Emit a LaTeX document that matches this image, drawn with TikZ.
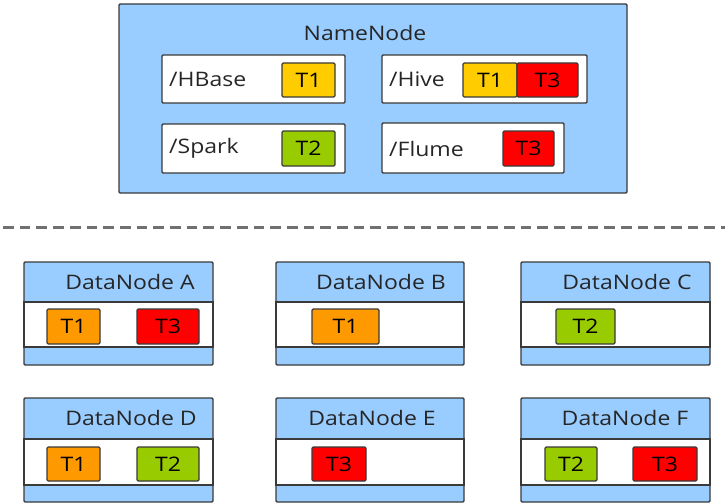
\documentclass[tikz,border=0pt]{standalone}
\usepackage{fontspec}
\setmainfont{Open Sans}[FakeStretch=1.15]
\definecolor{nblue}{HTML}{99CCFF}
\definecolor{tyellow}{HTML}{FFCC00}
\definecolor{torange}{HTML}{FF9900}
\definecolor{tgreen}{HTML}{99CC00}
\definecolor{tred}{HTML}{FF0000}
\definecolor{edge}{HTML}{3A3A3A}
\definecolor{dashgray}{HTML}{707070}
\tikzset{
  box/.style={draw=edge, line width=1.4pt, rounded corners=1.2pt, inner sep=0pt, outer sep=0pt},
  bluebox/.style={box, fill=nblue},
  whitebox/.style={box, fill=white},
  tag/.style={box, line width=1.2pt, minimum height=35pt, text=black},
  lbl/.style={inner sep=0pt, text=black!85},
  sepline/.style={draw=dashgray, line width=3pt, dash pattern=on 10.7pt off 6pt},
}
\newcommand{\dnode}[5]{% name, xleft, ytop, title, dummy
}
\begin{document}
\begin{tikzpicture}[x=1pt,y=-1pt,font=\fontsize{20}{24}\selectfont]
\useasboundingbox (0,0) rectangle (725,503);
% NameNode
\node[bluebox, minimum width=508pt, minimum height=189pt] (nn) at (373,98.5) {};
\node[lbl] (nntitle) at (365,33) {NameNode};
\node[whitebox, minimum width=183pt, minimum height=48pt] (hbase) at (253.5,79) {};
\node[lbl, anchor=west] (hbaselbl) at (169,79) {/HBase};
\node[tag, fill=tyellow, minimum width=53pt, minimum height=34pt] (hbaset1) at (308.5,80) {T1};
\node[whitebox, minimum width=205pt, minimum height=48pt] (hive) at (484.5,79) {};
\node[lbl, anchor=west] (hivelbl) at (389,79) {/Hive};
\node[tag, fill=tyellow, minimum width=54pt, minimum height=34pt] (hivet1) at (490,80) {T1};
\node[tag, fill=tred, minimum width=61pt, minimum height=34pt] (hivet3) at (547.5,80) {T3};
\node[whitebox, minimum width=183pt, minimum height=49pt] (spark) at (253.5,148.5) {};
\node[lbl, anchor=west] (sparklbl) at (169,148.5) {/Spark};
\node[tag, fill=tgreen, minimum width=53pt] (sparkt2) at (308.5,148.5) {T2};
\node[whitebox, minimum width=182pt, minimum height=50pt] (flume) at (473,148) {};
\node[lbl, anchor=west] (flumelbl) at (389,148.5) {/Flume};
\node[tag, fill=tred, minimum width=51pt] (flumet3) at (528.5,148.5) {T3};
% separator
\coordinate (sepL) at (3,227);
\coordinate (sepR) at (725,227);
\draw[sepline] (sepL) -- (sepR);
% DataNodes row 1
\node[bluebox, minimum width=189pt, minimum height=103pt] (dA) at (118.5,313.5) {};
\node[box, fill=white, rounded corners=0pt, minimum width=189pt, minimum height=45pt] (dAm) at (118.5,324.5) {};
\node[lbl] (dAt) at (130,282) {DataNode A};
\node[tag, fill=torange, minimum width=53pt] (dAt1) at (73.5,326.5) {T1};
\node[tag, fill=tred, minimum width=62pt] (dAt3) at (168,326.5) {T3};

\node[bluebox, minimum width=188pt, minimum height=103pt] (dB) at (370,313.5) {};
\node[box, fill=white, rounded corners=0pt, minimum width=188pt, minimum height=45pt] (dBm) at (370,324.5) {};
\node[lbl] (dBt) at (381,282) {DataNode B};
\node[tag, fill=torange, minimum width=67pt] (dBt1) at (345.5,326.5) {T1};

\node[bluebox, minimum width=189pt, minimum height=103pt] (dC) at (615.5,313.5) {};
\node[box, fill=white, rounded corners=0pt, minimum width=189pt, minimum height=45pt] (dCm) at (615.5,324.5) {};
\node[lbl] (dCt) at (627,282) {DataNode C};
\node[tag, fill=tgreen, minimum width=59pt] (dCt2) at (585.5,326.5) {T2};
% DataNodes row 2
\node[bluebox, minimum width=189pt, minimum height=104pt] (dD) at (118.5,450) {};
\node[box, fill=white, rounded corners=0pt, minimum width=189pt, minimum height=46pt] (dDm) at (118.5,462) {};
\node[lbl] (dDt) at (131,418) {DataNode D};
\node[tag, fill=torange, minimum width=53pt, minimum height=34pt] (dDt1) at (73.5,464) {T1};
\node[tag, fill=tgreen, minimum width=62pt, minimum height=34pt] (dDt2) at (168,464) {T2};

\node[bluebox, minimum width=188pt, minimum height=104pt] (dE) at (370,450) {};
\node[box, fill=white, rounded corners=0pt, minimum width=188pt, minimum height=46pt] (dEm) at (370,462) {};
\node[lbl] (dEt) at (372,418) {DataNode E};
\node[tag, fill=tred, minimum width=54pt, minimum height=34pt] (dEt3) at (339,464) {T3};

\node[bluebox, minimum width=189pt, minimum height=104pt] (dF) at (615.5,450) {};
\node[box, fill=white, rounded corners=0pt, minimum width=189pt, minimum height=46pt] (dFm) at (615.5,462) {};
\node[lbl] (dFt) at (625,418) {DataNode F};
\node[tag, fill=tgreen, minimum width=52pt, minimum height=34pt] (dFt2) at (571,464) {T2};
\node[tag, fill=tred, minimum width=64pt, minimum height=34pt] (dFt3) at (665,464) {T3};
\end{tikzpicture}
\end{document}
